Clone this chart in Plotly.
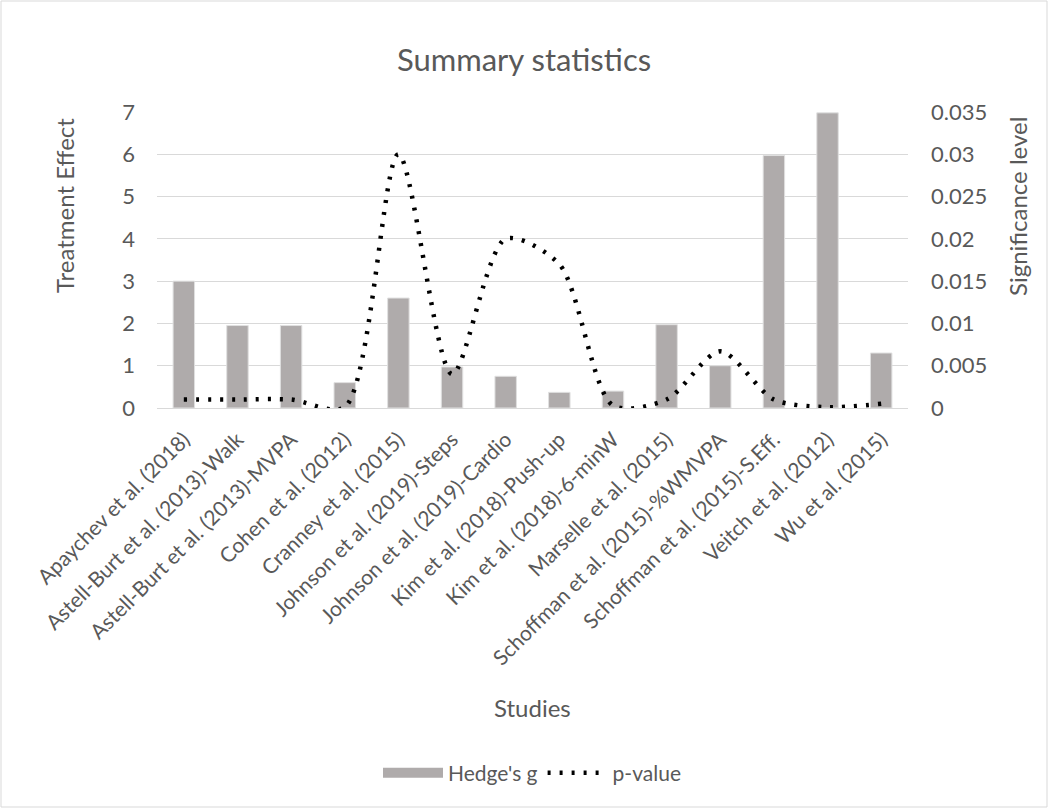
import plotly.graph_objects as go

studies = ["Apaychev et al. (2018)", "Astell-Burt et al. (2013)-Walk", "Astell-Burt et al. (2013)-MVPA",
           "Cohen et al. (2012)", "Cranney et al. (2015)", "Johnson et al. (2019)-Steps",
           "Johnson et al. (2019)-Cardio", "Kim et al. (2018)-Push-up", "Kim et al. (2018)-6-minW",
           "Marselle et al. (2015)", "Schoffman et al. (2015)-%WMVPA", "Schoffman et al. (2015)-S.Eff.",
           "Veitch et al. (2012)", "Wu et al. (2015)"]
hedges_g = [3.0, 1.95, 1.95, 0.6, 2.6, 0.97, 0.75, 0.37, 0.4, 1.97, 1.0, 5.97, 6.98, 1.3]
p_values = [0.001, 0.001, 0.001, 0.0001, 0.03, 0.004, 0.02, 0.017, 0.0003, 0.001, 0.0067, 0.001, 0.0001, 0.0005]

left_ticks = [0, 1, 2, 3, 4, 5, 6, 7]
right_ticks = [0, 0.005, 0.01, 0.015, 0.02, 0.025, 0.03, 0.035]
right_labels = ["0", "0.005", "0.01", "0.015", "0.02", "0.025", "0.03", "0.035"]

FONT = "Lato"
GRAY = "#595959"
BAR = "#AFABAB"

W, H = 1049, 809
L, R, T, B = 157, 141, 112, 401
pw, ph = W - L - R, H - T - B

def px(xp):
    return (xp - L) / pw

def py(yp):
    return (H - B - yp) / ph

fig = go.Figure()
fig.add_trace(go.Bar(x=studies, y=hedges_g, name="Hedge's g", showlegend=False,
                     marker=dict(color=BAR, line=dict(color="#E0E0E0", width=1)),
                     width=0.4))
# legend-only swatch for the bars (wide rectangle like the original)
fig.add_trace(go.Scatter(x=[None], y=[None], name="Hedge's g", mode="lines",
                         line=dict(color=BAR, width=11)))
fig.add_trace(go.Scatter(x=studies, y=p_values, name="p-value", yaxis="y2", mode="lines",
                         line=dict(color="black", width=4.5, dash="3px,9px", shape="spline", smoothing=0.8)))

fig.update_layout(
    width=W, height=H,
    margin=dict(l=L, r=R, t=T, b=B),
    paper_bgcolor="white", plot_bgcolor="white",
    font=dict(family=FONT, color=GRAY, size=20),
    title=dict(text="Summary statistics", x=px(524), xref="paper", xanchor="center",
               y=1 - 60 / H, yref="container", yanchor="middle",
               font=dict(size=31, color=GRAY, family=FONT)),
    showlegend=True,
    legend=dict(orientation="h", x=px(532), y=py(773), xanchor="center", yanchor="middle",
                font=dict(size=21, color=GRAY, family=FONT), itemwidth=60),
    xaxis=dict(tickangle=-45, tickfont=dict(size=21, color=GRAY), showgrid=False,
               showline=True, linecolor="#D9D9D9", linewidth=1, ticks="", ticklabelstandoff=10),
    yaxis=dict(range=[0, 7], tickvals=left_ticks, showgrid=True, gridcolor="#D9D9D9", gridwidth=1,
               zeroline=False, tickfont=dict(size=22, color=GRAY), ticks="", ticklabelstandoff=21),
    yaxis2=dict(range=[0, 0.035], tickvals=right_ticks, ticktext=right_labels, overlaying="y", side="right",
                showgrid=False, zeroline=False, tickfont=dict(size=22, color=GRAY), ticks="",
                ticklabelstandoff=22),
)

fig.add_annotation(text="Treatment Effect", x=px(64), y=py(206), xref="paper", yref="paper",
                   xanchor="center", yanchor="middle",
                   textangle=-90, showarrow=False, font=dict(size=24, color=GRAY, family=FONT))
fig.add_annotation(text="Significance level", x=px(1017), y=py(207), xref="paper", yref="paper",
                   xanchor="center", yanchor="middle",
                   textangle=-90, showarrow=False, font=dict(size=24, color=GRAY, family=FONT))
fig.add_annotation(text="Studies", x=px(532), y=py(707), xref="paper", yref="paper",
                   xanchor="center", yanchor="middle",
                   showarrow=False, font=dict(size=24, color=GRAY, family=FONT))

fig.add_shape(type="rect", xref="paper", yref="paper",
              x0=px(1), x1=px(1047), y0=py(807), y1=py(1),
              line=dict(color="#D9D9D9", width=1), fillcolor="rgba(0,0,0,0)")

fig.write_html("out.html", config={"displayModeBar": False},
               post_script="document.body.style.margin='0';")
